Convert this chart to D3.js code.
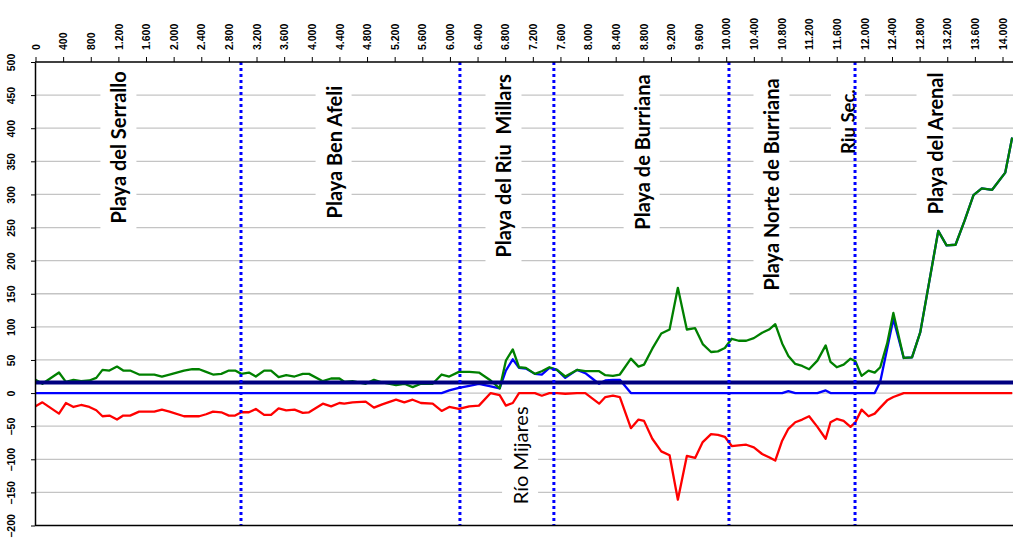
<!DOCTYPE html>
<html>
<head>
<meta charset="utf-8">
<script src="https://cdn.jsdelivr.net/npm/d3@7"></script>
<style>
  body { margin: 0; background: #fff; }
  svg { display: block; }
</style>
</head>
<body>
<svg id="chart" width="1013" height="538"></svg>
<script>
// Distance along the coast (m)
const distance = [0, 100, 340, 440, 550, 660, 780, 880, 970, 1070, 1180, 1270, 1370, 1500, 1720, 1830, 1940, 2150, 2270, 2370, 2470, 2570, 2690, 2800, 2890, 2980, 3090, 3190, 3310, 3410, 3520, 3630, 3750, 3870, 3960, 4160, 4280, 4400, 4470, 4590, 4780, 4900, 5020, 5220, 5340, 5460, 5580, 5750, 5880, 5990, 6130, 6280, 6420, 6590, 6720, 6810, 6910, 7000, 7100, 7230, 7330, 7440, 7550, 7670, 7840, 7960, 8060, 8160, 8250, 8360, 8460, 8620, 8730, 8810, 8930, 9060, 9180, 9300, 9430, 9550, 9660, 9780, 9880, 9980, 10080, 10180, 10290, 10400, 10520, 10620, 10710, 10810, 10900, 11000, 11100, 11200, 11320, 11440, 11510, 11600, 11700, 11800, 11870, 11960, 12060, 12150, 12230, 12330, 12420, 12570, 12690, 12810, 13070, 13190, 13320, 13450, 13580, 13700, 13850, 14040, 14140];

// Total shoreline change (green)
const totalChange = [20, 14, 31, 17, 20, 18, 19, 23, 35, 34, 40, 34, 34, 28, 28, 25, 28, 34, 36, 36, 32, 28, 29, 34, 34, 29, 31, 25, 34, 34, 24, 27, 25, 29, 29, 18, 22, 22, 17, 18, 14, 20, 16, 12, 14, 9, 14, 14, 28, 25, 32, 32, 31, 19, 7, 49, 66, 39, 38, 29, 33, 39, 35, 25, 35, 33, 33, 33, 27, 26, 28, 52, 40, 43, 67, 90, 96, 159, 96, 98, 74, 62, 63, 68, 82, 79, 79, 83, 91, 96, 104, 75, 56, 44, 41, 36, 49, 72, 47, 39, 43, 52, 48, 26, 34, 31, 39, 75, 121, 53, 54, 92, 245, 223, 224, 260, 299, 309, 307, 333, 386];

// Accretion (blue)
const accretion = [0, 0, 0, 0, 0, 0, 0, 0, 0, 0, 0, 0, 0, 0, 0, 0, 0, 0, 0, 0, 0, 0, 0, 0, 0, 0, 0, 0, 0, 0, 0, 0, 0, 0, 0, 0, 0, 0, 0, 0, 0, 0, 0, 0, 0, 0, 0, 0, 0, 4, 8, 11, 14, 10, 7, 34, 51, 38, 37, 29, 28, 38, 35, 23, 35, 30, 22, 14, 19, 20, 20, 0, 0, 0, 0, 0, 0, 0, 0, 0, 0, 0, 0, 0, 0, 0, 0, 0, 0, 0, 0, 0, 3, 0, 0, 0, 0, 4, 0, 0, 0, 0, 0, 0, 0, 0, 17, 67, 112, 53, 54, 92, 245, 223, 224, 260, 299, 309, 307, 333, 386];

// Erosion (red)
const erosion = [-20, -14, -31, -15, -21, -18, -21, -26, -35, -34, -40, -34, -34, -28, -28, -25, -28, -35, -35, -35, -32, -28, -29, -34, -34, -29, -29, -24, -33, -33, -23, -26, -25, -30, -29, -16, -20, -15, -16, -14, -13, -22, -17, -10, -14, -10, -15, -16, -27, -21, -24, -20, -19, 0, -3, -19, -15, 0, 0, 0, -4, 0, 0, -1, 0, 0, -8, -16, -6, -4, -6, -53, -40, -42, -69, -88, -94, -161, -95, -98, -74, -62, -63, -66, -80, -79, -78, -82, -92, -97, -102, -72, -54, -44, -40, -35, -51, -69, -44, -39, -42, -51, -44, -25, -35, -31, -22, -11, -6, 0, 0, 0, 0, 0, 0, 0, 0, 0, 0, 0, 0];

// Reference level (navy)
const referenceLevel = 16;

// Boundaries between coastal sections (m)
const sectionBreaks = [2975, 6145, 7505, 10040, 11865];

// Axis ticks
const xTicks = d3.range(0, 14001, 400);
const yTicks = d3.range(-200, 501, 50);

// Section names
const sectionNames = ["Playa del Serrallo", "Playa Ben Afeli", "Playa del Riu\u00a0\u00a0Millars", "Playa de Burriana", "Playa Norte de Burriana", "Riu Sec.", "Playa del Arenal", "Río Mijares"];
const sectionNameAt = [1215, 4330, 6790, 8790, 10670, 11770, 13030, 7030];
const sectionNameLevel = [371, 364, 343, 364, 315, 410, 377, -94];

const W = 1013, H = 538;
const plot = { left: 35, top: 62, right: 1013, bottom: 525.5 };

const x = d3.scaleLinear().domain([0, 14000]).range([35.5, 1002.5]);
const y = d3.scaleLinear().domain([-200, 500]).range([plot.bottom, plot.top]);

const locale = d3.formatLocale({ decimal: ",", thousands: ".", grouping: [3], currency: ["", ""] });
const fmtX = locale.format(",");

const svg = d3.select("#chart");

svg.append("defs").append("clipPath").attr("id", "plotClip")
  .append("rect").attr("x", plot.left).attr("y", plot.top)
  .attr("width", plot.right - plot.left).attr("height", plot.bottom - plot.top);

// Horizontal gridlines
svg.append("g").selectAll("line").data(yTicks.filter(v => v > -200 && v < 500)).join("line")
  .attr("x1", plot.left).attr("x2", plot.right)
  .attr("y1", d => y(d)).attr("y2", d => y(d))
  .attr("stroke", "#c4c4c4").attr("stroke-width", 1.3);

// Section name boxes and labels
const labelLayer = svg.append("g");
const labels = sectionNames.map((name, i) => ({ name, at: sectionNameAt[i], level: sectionNameLevel[i], i }));
const lg = labelLayer.selectAll("g").data(labels).join("g")
  .attr("transform", d => `translate(${x(d.at)},${y(d.level)}) rotate(-90)`);
lg.append("rect").attr("fill", "#fff");
lg.append("text")
  .attr("text-anchor", "middle")
  .attr("dy", "0.35em")
  .attr("font-family", "Lato, 'Open Sans', sans-serif")
  .attr("font-weight", d => d.name === "Río Mijares" ? 400 : 700)
  .attr("font-size", d => d.name === "Riu Sec." ? 18.5 : 20)
  .attr("fill", "#000")
  .text(d => d.name);
lg.each(function () {
  const g = d3.select(this);
  const bb = g.select("text").node().getBBox();
  g.select("rect")
    .attr("x", bb.x - 6).attr("y", bb.y - 6)
    .attr("width", bb.width + 12).attr("height", bb.height + 12);
});

// Data lines
const lines = svg.append("g").attr("clip-path", "url(#plotClip)");
const lineGen = vals => d3.line().x((d, i) => x(distance[i])).y(d => y(d))(vals);

lines.append("path").attr("d", lineGen(erosion))
  .attr("fill", "none").attr("stroke", "#ff0000").attr("stroke-width", 2.3).attr("stroke-linejoin", "round");
lines.append("path").attr("d", lineGen(accretion))
  .attr("fill", "none").attr("stroke", "#0000ff").attr("stroke-width", 2.3).attr("stroke-linejoin", "round");
lines.append("path").attr("d", lineGen(totalChange))
  .attr("fill", "none").attr("stroke", "#008000").attr("stroke-width", 2.3).attr("stroke-linejoin", "round");

lines.append("line")
  .attr("x1", plot.left).attr("x2", plot.right)
  .attr("y1", y(referenceLevel)).attr("y2", y(referenceLevel))
  .attr("stroke", "#000080").attr("stroke-width", 4);

// Section boundaries
svg.append("g").selectAll("line").data(sectionBreaks).join("line")
  .attr("x1", d => x(d)).attr("x2", d => x(d))
  .attr("y1", plot.top).attr("y2", plot.bottom)
  .attr("stroke", "#0000ff").attr("stroke-width", 3).attr("stroke-dasharray", "3,3");

// Frame
svg.append("line").attr("x1", plot.left).attr("x2", plot.right).attr("y1", plot.top).attr("y2", plot.top)
  .attr("stroke", "#000").attr("stroke-width", 1.5);
svg.append("line").attr("x1", plot.left).attr("x2", plot.right).attr("y1", plot.bottom).attr("y2", plot.bottom)
  .attr("stroke", "#000").attr("stroke-width", 1.5);

// Top axis (distance)
const xAxis = svg.append("g").attr("transform", `translate(0,${plot.top})`)
  .call(d3.axisTop(x).tickValues(xTicks).tickFormat(fmtX).tickSize(5).tickSizeOuter(0));
xAxis.select(".domain").remove();
xAxis.selectAll(".tick line").attr("stroke", "#000");
xAxis.selectAll(".tick text")
  .attr("transform", "rotate(-90)")
  .attr("x", 12).attr("y", 0).attr("dy", "0.35em")
  .attr("text-anchor", "start")
  .attr("font-family", "'Liberation Sans', Arial, sans-serif")
  .attr("font-weight", 700).attr("font-size", 10.5).attr("fill", "#000");

// Left axis (value)
const yAxis = svg.append("g").attr("transform", `translate(${plot.left},0)`)
  .call(d3.axisLeft(y).tickValues(yTicks).tickSize(4).tickSizeOuter(0));
yAxis.select(".domain").attr("stroke", "#000").attr("stroke-width", 1.5);
yAxis.selectAll(".tick line").attr("stroke", "#000");
yAxis.selectAll(".tick text")
  .attr("transform", "rotate(-90)")
  .attr("x", 0).attr("y", -24).attr("dy", "0.35em")
  .attr("text-anchor", "middle")
  .attr("font-family", "'Liberation Sans', Arial, sans-serif")
  .attr("font-weight", 700).attr("font-size", 10.5).attr("fill", "#000");
</script>
</body>
</html>
